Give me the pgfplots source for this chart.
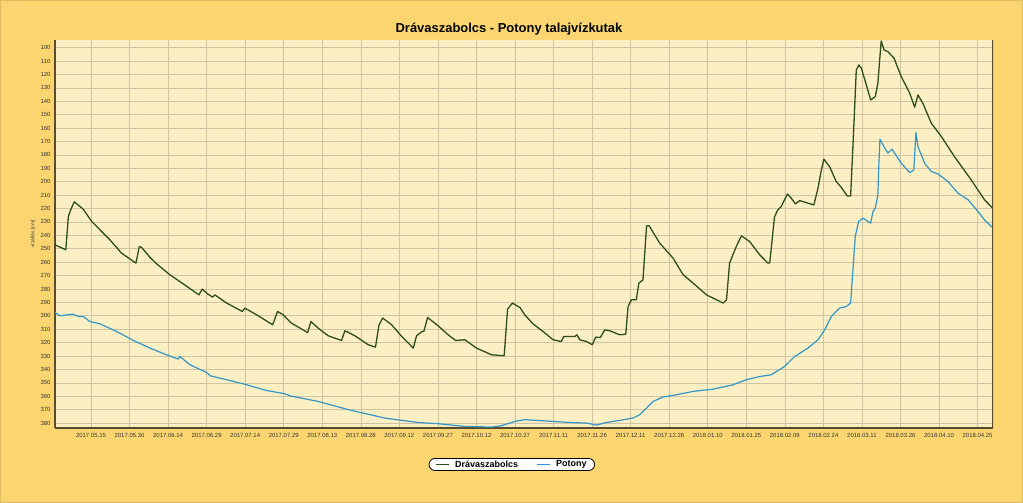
\documentclass[border=0pt]{standalone}
\usepackage{fontspec}
\setmainfont{Liberation Sans}
\usepackage{pgfplots}
\pgfplotsset{compat=1.18}
\usepackage{pgfplotstable}

\definecolor{framec}{RGB}{251,214,112}
\definecolor{plotbg}{RGB}{253,239,196}
\definecolor{gridc}{RGB}{208,196,165}
\definecolor{axisc}{RGB}{90,75,45}
\definecolor{drava}{RGB}{45,78,28}
\definecolor{potony}{RGB}{50,150,200}
\definecolor{labelc}{RGB}{55,55,55}

% day 0 = 2017.05.01, values in cm
\pgfplotstableread{
day val
0 247.1
4.2 250.8
5.2 226
6.1 221
7.5 215
11 220.5
14.3 229.7
15.6 232.2
21.4 243.4
25.9 253.3
31.5 260.7
32.8 248.3
33.7 249
36.9 256.3
39.5 261.2
44.7 269.4
49.9 276.2
56 284.4
57.3 280.1
59 283.1
61.3 286.1
62.2 284.4
66.8 290.5
72.9 296.8
73.9 294.3
78.5 299.3
84.7 306.7
86.6 296.8
88.8 299.3
92 305.5
98.3 312.5
99.6 304.3
102.4 309.2
106.3 314.9
111.5 318.4
112.8 311.2
116.7 314.9
121.9 321.6
124.7 323.4
126.1 306.7
127.5 301.7
131 306.7
134.9 315.4
139.4 324.1
140.7 314.9
142.9 311.7
143.5 311.7
145 301.3
149.1 307.5
153 314.2
155.9 318.4
159.5 317.9
164 324.1
169.9 329.1
174.8 329.8
176.1 295
178 290.5
181 294
182.8 299.3
186 306
189.9 311.7
193.8 317.9
197 319.2
198 315.4
202.3 315.4
203.1 314.2
204.2 317.9
206.8 319.2
209.1 321.6
210.4 315.9
212.2 316.2
213.9 310.5
215.9 311.2
219.8 314.2
222.1 313.7
223 293.1
224.3 288.1
226.2 288.1
227.2 275.6
228.8 273.2
230.2 232.9
231.2 232.9
235.3 245.8
240.5 257
244.4 269.4
248.3 275.6
253.5 284.4
260 290.5
261.3 288.1
262.5 260.7
265.1 248.3
267.1 240.4
270.3 244.6
274.2 254.5
277.4 260.7
278.1 260.7
280 226
281.3 221
282.6 218.5
285 209.1
286.5 212.3
288.1 216.5
289.8 214.1
293 216
295.3 217.3
296.9 204.8
298.2 191.2
299.2 183.2
301.4 188.7
304 199.9
305.7 203.6
308.3 210.6
309.6 210.6
310.9 156.4
311.8 116.6
312.8 112.9
313.8 115.4
315.7 127.8
317.4 139
319.2 136.5
320.2 126.5
320.9 109.2
321.5 95
322.6 101.7
324.1 103
326.5 107.9
329.3 121.6
332.6 134
334.5 144.4
335.8 135.3
337.7 141.5
341 156.4
344.9 166.3
350 181.3
356.5 198.6
361.7 213.5
365 220
}\dravatable

\pgfplotstableread{
day val
0 297.5
2 300
4.5 299.3
6.9 298.8
9.1 300.5
11 300.5
13.6 304.3
17.5 306
24 311.7
30.5 318.4
37 324.1
43.4 329.1
48 332.3
48.6 330.4
52.5 336.5
59 342.3
60.3 344.7
66.8 347.7
73.2 350.7
82.3 355.7
89.5 358.2
91.4 359.7
102.4 363.9
115.4 370.6
128.4 376.3
141.3 379.6
149.1 380.5
159.5 382.5
169.9 383
173.7 382
178.9 378.8
182.8 377.5
187.4 378
193.8 378.8
200.3 379.6
206.8 380
210.7 381.5
214.6 379.6
219.8 378
224.9 376.3
227.5 373.8
230.2 368.8
232.7 363.9
236.6 360.6
241.8 358.9
248.3 356.4
256.1 354.7
263.8 351.5
269 347.7
274.2 345.3
278.7 344
283.9 337.8
287.8 330.4
293 324.1
296.9 317.9
299.5 310.5
302.1 300.5
305.3 294.3
307.9 293.1
309.6 290.5
310.5 265.7
311.4 240.9
312.7 229.7
314.4 227.2
317.4 230.9
318.3 222.3
319.2 219.7
320.2 209.8
320.5 191.2
321 168.3
322.2 172.5
324.1 178.7
325.7 175.7
326.7 178.7
329.3 186.2
332.6 193.2
334.2 191.2
335 163.3
335.8 173.8
338.4 186.2
341 192.4
343.6 194.2
347.5 199.9
351.4 208.6
355.3 213.5
359.2 222.3
361.7 228.5
365 234.6
}\potonytable

\begin{document}
\begin{tikzpicture}
\useasboundingbox (0,0) rectangle (1023bp,503bp);
\fill[framec] (0,0) rectangle (1023bp,503bp);
\draw[framec!88!black, line width=1.2bp] (0.6bp,0.6bp) rectangle (1022.4bp,502.4bp);
\node[font=\bfseries\fontsize{13}{15}\selectfont] at (509bp,474bp) {Drávaszabolcs - Potony talajvízkutak};
\begin{axis}[
  at={(55bp,75bp)}, anchor=south west,
  width=938bp, height=388bp, scale only axis,
  xmin=0, xmax=365, ymin=94.3, ymax=383.7, y dir=reverse,
  axis x line*=bottom, axis y line*=left,
  axis line style={axisc, line width=1.6bp, -},
  axis background/.style={fill=plotbg},
  xtick={14,29,...,359},
  xticklabels={2017.05.15, 2017.05.30, 2017.06.14, 2017.06.29, 2017.07.14, 2017.07.29, 2017.08.13, 2017.08.28, 2017.09.12, 2017.09.27, 2017.10.12, 2017.10.27, 2017.11.11, 2017.11.26, 2017.12.11, 2017.12.26, 2018.01.10, 2018.01.25, 2018.02.09, 2018.02.24, 2018.03.11, 2018.03.26, 2018.04.10, 2018.04.25},
  ytick={100,110,...,380},
  grid=major, major grid style={gridc, line width=0.6bp},
  major tick length=0pt,
  tick label style={font=\fontsize{6}{7}\selectfont, text=labelc},
  /pgf/number format/assume math mode=true,
  xticklabel style={yshift=-1.5bp},
  yticklabel style={xshift=-1bp},
  ylabel={vízállás [cm]},
  ylabel style={at={(axis description cs:-0.0235,0.5)}, anchor=center, font=\fontsize{5}{6}\selectfont, text=labelc},
  legend style={at={(0.487,-0.094)}, anchor=center, draw=black, fill=white,
    rounded corners=6bp, line width=0.8bp, legend columns=2,
    font=\bfseries\fontsize{9}{10}\selectfont, inner xsep=6bp, inner ysep=0bp,
    /tikz/every odd column/.append style={column sep=4bp},
    /tikz/every even column/.append style={column sep=16bp}},
  legend image code/.code={\draw[#1, line width=1.2bp, sharp corners] (0bp,0bp) -- (13bp,0bp);},
]
\addplot[drava, line width=1.3bp, line join=round] table[x=day, y=val] {\dravatable};
\addlegendentry{Drávaszabolcs}
\addplot[potony, line width=1.2bp, line join=round] table[x=day, y=val] {\potonytable};
\addlegendentry{Potony}
\draw[axisc, line width=1.2bp] (rel axis cs:1,0) -- (rel axis cs:1,1);
\end{axis}
\end{tikzpicture}
\end{document}
